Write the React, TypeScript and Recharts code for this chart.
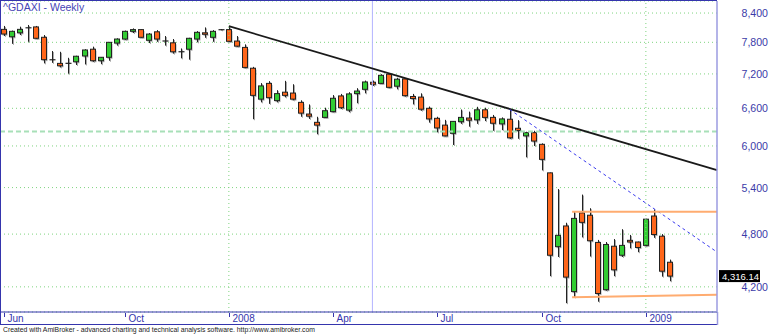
import React from 'react';
import { ComposedChart, Bar, XAxis, YAxis, CartesianGrid, ReferenceLine } from 'recharts';

// Weekly ^GDAXI candles, Jun 22 2007 .. Jan 23 2009
const opens = [
  8060, 7910, 7990, 8092, 8110, 7900, 7463, 7395, 7396, 7425,
  7535, 7665, 7445, 7510, 7785, 7865, 8020, 8055, 7840, 8010,
  7826, 7790, 7616, 7665, 7865, 7990, 7900, 8053, 8055, 7825,
  7700, 7305, 6755, 7030, 6730, 6875, 6860, 6700, 6505, 6370,
  6450, 6545, 6810, 6570, 6850, 6925, 7050, 7030, 7195, 6980,
  7110, 6800, 6790, 6600, 6435, 6325, 6195, 6380, 6440, 6410,
  6575, 6450, 6345, 6420, 6275, 6155, 6205, 6025, 5605, 4650,
  4900, 4150, 5065, 5035, 4700, 4170, 4655, 4550, 4725, 4705,
  4665, 5025, 4775, 4470,
];
const highs = [
  8130, 8035, 8115, 8150, 8130, 7945, 7630, 7615, 7500, 7540,
  7665, 7715, 7515, 7805, 7880, 8035, 8080, 8060, 7985, 8045,
  7925, 7865, 7680, 7890, 8025, 8100, 8045, 8067, 8120, 7925,
  7760, 7330, 7035, 7070, 6910, 7075, 7015, 6735, 6665, 6460,
  6610, 6825, 6845, 6875, 6945, 7080, 7080, 7195, 7210, 7130,
  7120, 6845, 6855, 6630, 6460, 6410, 6390, 6580, 6545, 6625,
  6610, 6490, 6450, 6580, 6405, 6220, 6235, 6040, 5610, 5380,
  4940, 5080, 5305, 5125, 4730, 4705, 4740, 4860, 4790, 4710,
  4990, 5110, 4800, 4500,
];
const lows = [
  7925, 7770, 7945, 7810, 7865, 7395, 7405, 7320, 7205, 7365,
  7375, 7425, 7380, 7445, 7735, 7850, 7985, 7890, 7785, 7810,
  7735, 7580, 7490, 7465, 7800, 7890, 7810, 8040, 7810, 7715,
  7305, 6420, 6700, 6675, 6700, 6785, 6735, 6460, 6425, 6180,
  6445, 6535, 6590, 6535, 6685, 6855, 6985, 7020, 6945, 6925,
  6800, 6665, 6560, 6365, 6210, 6150, 6015, 6345, 6300, 6345,
  6390, 6235, 6245, 6110, 6110, 5830, 6000, 5640, 4315, 4530,
  4030, 4090, 4760, 4535, 4045, 4160, 4315, 4530, 4630, 4585,
  4655, 4755, 4310, 4260,
];
const closes = [
  7965, 8020, 8060, 8092, 7880, 7465, 7463, 7350, 7396, 7530,
  7650, 7445, 7510, 7800, 7865, 8020, 8055, 7900, 7965, 7865,
  7826, 7615, 7616, 7880, 8000, 7960, 8020, 8053, 7820, 7725,
  7320, 6820, 6985, 6780, 6850, 6820, 6755, 6520, 6470, 6325,
  6560, 6770, 6610, 6845, 6895, 7055, 7015, 7175, 6960, 7105,
  6815, 6765, 6585, 6425, 6280, 6155, 6385, 6450, 6405, 6575,
  6450, 6355, 6425, 6125, 6240, 6205, 6075, 5800, 4550, 4785,
  4305, 4995, 4945, 4720, 4130, 4675, 4385, 4665, 4705, 4640,
  4985, 4795, 4370, 4316.14,
];

// x-axis labels (week index -> label)
const tickWeeks = [0, 15, 28, 41, 54, 67, 80];
const tickLabels = ['Jun', 'Oct', '2008', 'Apr', 'Jul', 'Oct', '2009'];
const yearWeeks = [28, 80];
const yTicks = [4200, 4800, 5400, 6000, 6600, 7200, 7800, 8400];

const xDomain = [-0.54, 88.87];
const yDomain = [3941, 8660];

// drawn study lines: [week, value]
const downTrend = [[28, 8125], [88.87, 5645]];
const dashTrend = [[63, 6582], [88.87, 4587]];
const boxTop = [[70.8, 5080], [88.87, 5080]];
const boxBottom = [[70.8, 4090], [88.87, 4117]];
const levelLine = 6225;
const selectedWeek = 45.9;
const lastClose = closes[closes.length - 1];

const data = opens.map((o, i) => ({
  i,
  o,
  hi: highs[i],
  lo: lows[i],
  c: closes[i],
  range: [lows[i], highs[i]],
}));

const FONT = '"Liberation Sans", Arial, sans-serif';
const FRAME = '#3535ad';
const AXIS = '#9b9be0';
const GRID = '#7fd47f';

const Candle = (props: any) => {
  const { x, y, width, height, payload } = props;
  if (x == null || y == null || !payload) return null;
  const top = Math.min(y, y + height);
  const h = Math.abs(height);
  const { o, hi, lo, c } = payload;
  const span = Math.log(hi) - Math.log(lo);
  const py = (v: number) => (span === 0 ? top : top + (h * (Math.log(hi) - Math.log(v))) / span);
  const cx = Math.round(x + width / 2) + 0.5;
  const yo = py(o);
  const yc = py(c);
  const bTop = Math.min(yo, yc);
  const bBot = Math.max(yo, yc);
  const flat = o === c;
  const up = c > o;
  const fill = up ? '#33cc33' : '#ff661a';
  return (
    <g>
      <line x1={cx + 1} x2={cx + 1} y1={top + 1} y2={top + h + 1} stroke="#a9a9a9" strokeWidth={1} />
      {!flat && (
        <rect x={cx - 2} y={bTop + 1.5} width={5} height={Math.max(bBot - bTop, 1)} fill="#a9a9a9" />
      )}
      <line x1={cx} x2={cx} y1={top} y2={top + h} stroke="#222" strokeWidth={1} />
      {flat ? (
        <line x1={cx - 3} x2={cx + 3} y1={yo} y2={yo} stroke="#222" strokeWidth={1.2} />
      ) : (
        <rect x={cx - 3} y={bTop} width={5} height={Math.max(bBot - bTop, 1)} fill={fill} stroke="#222" strokeWidth={1} />
      )}
    </g>
  );
};

const XTick = (props: any) => {
  const { x, y, payload } = props;
  const k = tickWeeks.indexOf(payload.value);
  const label = k >= 0 ? tickLabels[k] : '';
  const px = Math.round(x) + 0.5;
  return (
    <g>
      <line x1={px} x2={px} y1={y + 1} y2={y + 5} stroke={FRAME} strokeWidth={1} />
      <text x={px + 3} y={y + 10} fontSize={10} fill={FRAME} fontFamily={FONT}>
        {label}
      </text>
    </g>
  );
};

const YTick = (props: any) => {
  const { x, y, payload } = props;
  return (
    <text x={x + 51} y={y} dy={4} textAnchor="end" fontSize={10.6} fill="#3b3ba8" fontFamily={FONT}>
      {Number(payload.value).toLocaleString('en-US')}
    </text>
  );
};

const PriceTag = (props: any) => {
  const vb = props.viewBox || {};
  const { x = 0, y = 0, width = 0 } = vb;
  const left = x + width + 2;
  return (
    <g>
      <rect x={left} y={y - 6} width={41} height={12} fill="#000" />
      <text x={left + 3} y={y + 3.5} fontSize={9.5} fill="#fff" fontFamily={FONT}>
        {lastClose.toLocaleString('en-US', { minimumFractionDigits: 2, maximumFractionDigits: 2 })}
      </text>
    </g>
  );
};

const seg = (s: number[][]) => [
  { x: s[0][0], y: s[0][1] },
  { x: s[1][0], y: s[1][1] },
];

export default function App() {
  return (
    <div style={{ position: 'absolute', left: 0, top: 0, width: 770, height: 334, background: '#fff' }}>
      <ComposedChart
        width={770}
        height={334}
        data={data}
        margin={{ top: 1, right: 0, bottom: 9, left: 0 }}
        style={{ fontFamily: FONT }}
      >
        <CartesianGrid horizontal vertical={false} stroke={GRID} strokeDasharray="1 3" />
        <XAxis
          dataKey="i"
          type="number"
          domain={xDomain}
          allowDataOverflow
          ticks={tickWeeks}
          interval={0}
          height={13}
          tickSize={0}
          tickMargin={0}
          tickLine={false}
          axisLine={{ stroke: FRAME, strokeWidth: 1 }}
          tick={<XTick />}
        />
        <YAxis
          orientation="right"
          type="number"
          scale="log"
          domain={yDomain}
          allowDataOverflow
          ticks={yTicks}
          interval={0}
          width={53}
          tickSize={0}
          tickMargin={0}
          tickLine={false}
          axisLine={{ stroke: AXIS, strokeWidth: 1.5 }}
          tick={<YTick />}
        />
        {yearWeeks.map((w) => (
          <ReferenceLine key={w} x={w} stroke={GRID} strokeDasharray="1 3" />
        ))}
        <ReferenceLine x={selectedWeek} stroke="#b4b4ff" strokeWidth={1} />
        <ReferenceLine y={levelLine} stroke="#a8e0b8" strokeWidth={2} strokeDasharray="5 3" />
        <Bar dataKey="range" barSize={6} isAnimationActive={false} shape={<Candle />} />
        <ReferenceLine segment={seg(downTrend)} stroke="#1a1a1a" strokeWidth={1.8} ifOverflow="visible" />
        <ReferenceLine segment={seg(dashTrend)} stroke="#3a3aee" strokeWidth={1} strokeDasharray="3 3" ifOverflow="visible" />
        <ReferenceLine segment={seg(boxTop)} stroke="#ffac70" strokeWidth={2} ifOverflow="visible" />
        <ReferenceLine segment={seg(boxBottom)} stroke="#ffac70" strokeWidth={2} ifOverflow="visible" />
        <ReferenceLine y={lastClose} stroke="none" ifOverflow="visible" label={<PriceTag />} />
      </ComposedChart>
      <svg
        width={770}
        height={334}
        style={{ position: 'absolute', left: 0, top: 0, pointerEvents: 'none' }}
      >
        <line x1={0} x2={717} y1={0.5} y2={0.5} stroke={FRAME} strokeWidth={1} />
        <line x1={0.5} x2={0.5} y1={0} y2={325} stroke={FRAME} strokeWidth={1} />
        <line x1={0} x2={718} y1={324.5} y2={324.5} stroke={FRAME} strokeWidth={1} />
        <line x1={717.5} x2={717.5} y1={312} y2={325} stroke={AXIS} strokeWidth={1.5} />
        <text x={3} y={11} fontSize={10.5} fill="#4444b4" fontFamily={FONT}>
          ^GDAXI - Weekly
        </text>
        <text x={3} y={332} fontSize={6.8} fill="#222" fontFamily={FONT} textLength={312} lengthAdjust="spacingAndGlyphs">
          Created with AmiBroker - advanced charting and technical analysis software. http://www.amibroker.com
        </text>
      </svg>
    </div>
  );
}
